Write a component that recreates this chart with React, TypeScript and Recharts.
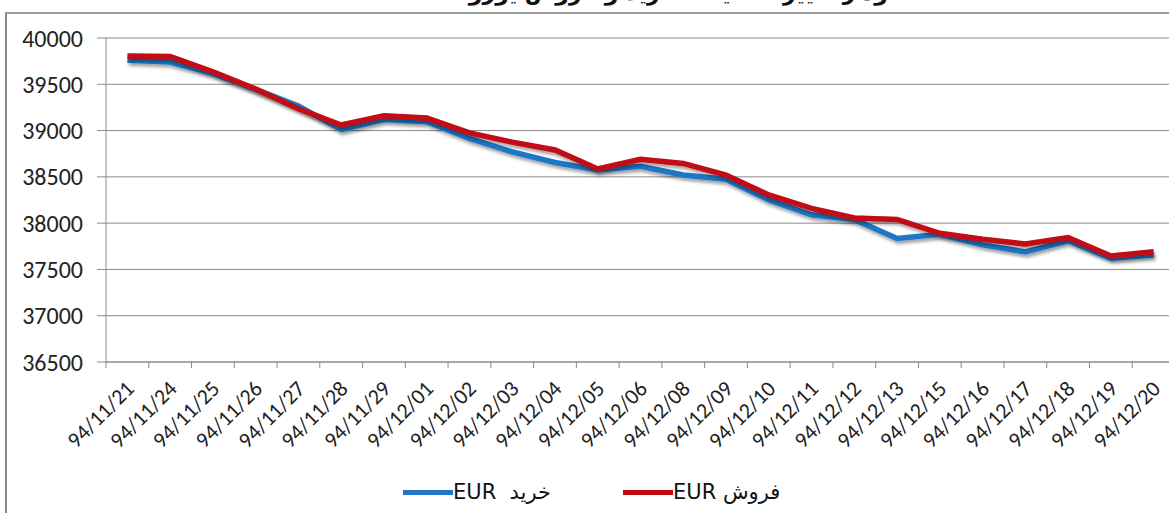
import { LineChart, Line, XAxis, YAxis, CartesianGrid } from 'recharts'

const dates = [
  '94/11/21', '94/11/24', '94/11/25', '94/11/26', '94/11/27', '94/11/28', '94/11/29',
  '94/12/01', '94/12/02', '94/12/03', '94/12/04', '94/12/05', '94/12/06', '94/12/08',
  '94/12/09', '94/12/10', '94/12/11', '94/12/12', '94/12/13', '94/12/15', '94/12/16',
  '94/12/17', '94/12/18', '94/12/19', '94/12/20',
]

const buy = [
  39760, 39740, 39615, 39445, 39265, 39010, 39120, 39095, 38915, 38770, 38655, 38575, 38615,
  38520, 38475, 38250, 38090, 38040, 37835, 37880, 37765, 37690, 37810, 37620, 37655,
]

const sell = [
  39805, 39800, 39635, 39450, 39235, 39060, 39160, 39135, 38975, 38875, 38790, 38585, 38690,
  38645, 38520, 38305, 38160, 38055, 38040, 37890, 37825, 37775, 37845, 37645, 37690,
]

const yTicks = [36500, 37000, 37500, 38000, 38500, 39000, 39500, 40000]

const seriesNames = ['خرید  EUR', 'فروش EUR']
const seriesColors = ['#1f77c6', '#c20812']

const title = 'نمودار تغییرات قیمت خرید و فروش یورو'

const data = dates.map((d, i) => ({ date: d, buy: buy[i], sell: sell[i] }))

const CHART_W = 1200
const CHART_H = 513
const MARGIN = { top: 38, right: 25, left: 10, bottom: 10 }
const Y_W = 96
const X_H = 141
const X_TICK_SIZE = 6
const X_TICK_MARGIN = 11
const GRID = '#8a8a8a'
const TEXT = '#222'
const FONT = 'Calibri, Carlito, "Open Sans", sans-serif'

function DateTick(props: any) {
  const { x, y, payload, index, visibleTicksCount } = props
  const plotW = CHART_W - MARGIN.left - MARGIN.right - Y_W
  const half = payload?.offset || plotW / dates.length / 2
  const axisY = y - X_TICK_SIZE - X_TICK_MARGIN
  const last = index === (visibleTicksCount ?? dates.length) - 1
  const tx = x - 3
  return (
    <g>
      <line x1={x - half} x2={x - half} y1={axisY} y2={axisY + X_TICK_SIZE} stroke={GRID} />
      {last && <line x1={x + half} x2={x + half} y1={axisY} y2={axisY + X_TICK_SIZE} stroke={GRID} />}
      <text
        x={tx}
        y={y}
        dy="0.71em"
        textAnchor="end"
        transform={`rotate(-45, ${tx}, ${y})`}
        fontSize={22}
        fontFamily={FONT}
        fill={TEXT}
      >
        {payload.value}
      </text>
    </g>
  )
}

export default function App() {
  return (
    <div
      style={{
        position: 'absolute',
        left: 0,
        top: 0,
        width: 1169,
        height: 513,
        overflow: 'hidden',
        background: '#fff',
      }}
    >
      <div
        style={{
          position: 'absolute',
          top: -20,
          left: 0,
          width: 1380,
          textAlign: 'center',
          fontSize: 22,
          fontWeight: 'bold',
          fontFamily: '"DejaVu Sans", sans-serif',
          direction: 'rtl',
          color: '#111',
        }}
      >
        {title}
      </div>
      <div
        style={{
          position: 'absolute',
          left: 5,
          top: 12,
          width: 1300,
          height: 600,
          borderLeft: '2px solid #8c8c8c',
          borderTop: '2px solid #9a9a9a',
        }}
      />
      <div style={{ position: 'absolute', left: 0, top: 0 }}>
        <LineChart width={CHART_W} height={CHART_H} data={data} margin={MARGIN}>
          <defs>
            <filter id="lineShadow" x="-5%" y="-20%" width="110%" height="140%">
              <feDropShadow dx="1.5" dy="3" stdDeviation="1.8" floodColor="#000" floodOpacity="0.35" />
            </filter>
          </defs>
          <CartesianGrid vertical={false} stroke={GRID} strokeWidth={1} />
          <XAxis
            dataKey="date"
            scale="band"
            interval={0}
            height={X_H}
            tickSize={X_TICK_SIZE}
            tickMargin={X_TICK_MARGIN}
            tickLine={false}
            axisLine={{ stroke: GRID }}
            tick={<DateTick />}
          />
          <YAxis
            domain={[36500, 40000]}
            ticks={yTicks}
            width={Y_W}
            tickSize={9}
            tickMargin={14}
            axisLine={{ stroke: GRID }}
            tickLine={{ stroke: GRID }}
            tick={{ fontSize: 24, fill: TEXT, fontFamily: FONT }}
          />
          <Line
            dataKey="buy"
            name={seriesNames[0]}
            stroke={seriesColors[0]}
            strokeWidth={5.5}
            dot={false}
            filter="url(#lineShadow)"
            isAnimationActive={false}
          />
          <Line
            dataKey="sell"
            name={seriesNames[1]}
            stroke={seriesColors[1]}
            strokeWidth={5.5}
            dot={false}
            filter="url(#lineShadow)"
            isAnimationActive={false}
          />
        </LineChart>
      </div>
      {seriesNames.map((name, i) => (
        <div
          key={name}
          style={{
            position: 'absolute',
            left: i === 0 ? 403 : 623,
            top: 480,
            display: 'flex',
            alignItems: 'center',
            fontSize: 21,
            color: '#111',
          }}
        >
          <span style={{ display: 'inline-block', width: 50, height: 5, background: seriesColors[i] }} />
          <span dir="rtl" style={{ fontFamily: '"DejaVu Sans", sans-serif', whiteSpace: 'pre' }}>
            {name}
          </span>
        </div>
      ))}
    </div>
  )
}
